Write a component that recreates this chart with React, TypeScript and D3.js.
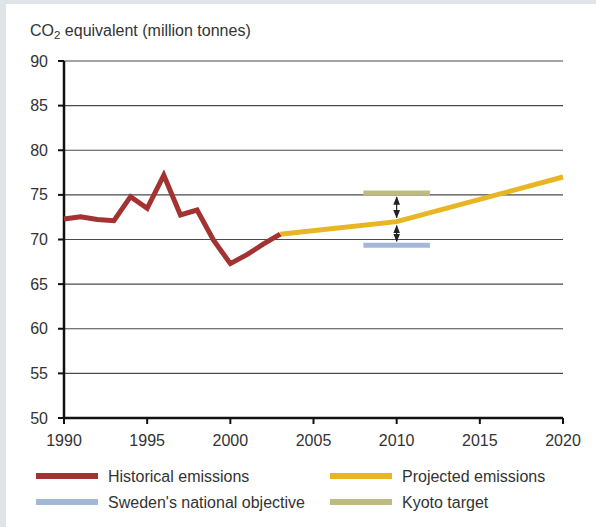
import * as d3 from "d3"

const years = [1990, 1991, 1992, 1993, 1994, 1995, 1996, 1997, 1998, 1999, 2000, 2001, 2002, 2003]
const historical = [72.3, 72.55, 72.25, 72.1, 74.8, 73.5, 77.2, 72.75, 73.3, 69.9, 67.3, 68.3, 69.5, 70.6]
const projYears = [2003, 2010, 2020]
const projected = [70.6, 72.0, 77.0]
const targetYears = [2008, 2012]
const kyoto = 75.2
const national = 69.35
const yTicks = [50, 55, 60, 65, 70, 75, 80, 85, 90]
const xTicks = [1990, 1995, 2000, 2005, 2010, 2015, 2020]

const RED = "#a33232"
const YELLOW = "#e8b623"
const BLUE = "#a3b8d9"
const OLIVE = "#bdbb82"
const FONT = "'Liberation Sans', Arial, sans-serif"

export default function App() {
    const width = 596
    const height = 527
    const m = { left: 64, right: 563, top: 61, bottom: 418 }

    const x = d3.scaleLinear().domain([1990, 2020]).range([m.left, m.right])
    const y = d3.scaleLinear().domain([50, 90]).range([m.bottom, m.top])

    const line = d3
        .line<[number, number]>()
        .x((d) => x(d[0]))
        .y((d) => y(d[1]))

    const histPts = years.map((yr, i) => [yr, historical[i]] as [number, number])
    const projPts = projYears.map((yr, i) => [yr, projected[i]] as [number, number])
    const proj2010 = projected[1]

    const legend = [
        { label: "Historical emissions", color: RED, col: 0, row: 0 },
        { label: "Projected emissions", color: YELLOW, col: 1, row: 0 },
        { label: "Sweden's national objective", color: BLUE, col: 0, row: 1 },
        { label: "Kyoto target", color: OLIVE, col: 1, row: 1 },
    ]

    return (
        <svg
            width={width}
            height={height}
            style={{ position: "absolute", left: 0, top: 0, fontFamily: FONT }}
        >
            <defs>
                <marker id="ah" viewBox="0 0 10 10" refX="9" refY="5" markerWidth="7" markerHeight="7" orient="auto-start-reverse">
                    <path d="M0,1 L10,5 L0,9 Z" fill="#222" />
                </marker>
            </defs>
            <rect x={0} y={0} width={width} height={height} fill="#dfe4e8" />
            <rect x={6} y={4} width={width - 6} height={height - 4} fill="#ffffff" />

            <text x={30} y={36} fontSize={16} fill="#333">
                CO<tspan fontSize={11.5} dy={3}>2</tspan>
                <tspan dy={-3}> equivalent (million tonnes)</tspan>
            </text>

            {/* grid */}
            {yTicks.slice(1).map((t) => (
                <line key={t} x1={m.left} x2={m.right} y1={y(t)} y2={y(t)} stroke="#4a4a4a" strokeWidth={1.1} />
            ))}

            {/* y ticks + labels */}
            {yTicks.map((t) => (
                <g key={t}>
                    <line x1={m.left - 6} x2={m.left} y1={y(t)} y2={y(t)} stroke="#111" strokeWidth={2} />
                    <text x={48} y={y(t)} dy="0.35em" textAnchor="end" fontSize={16} fill="#333">
                        {t}
                    </text>
                </g>
            ))}

            {/* x ticks + labels */}
            {xTicks.map((t) => (
                <g key={t}>
                    <line x1={x(t)} x2={x(t)} y1={m.bottom} y2={m.bottom + 6} stroke="#111" strokeWidth={2} />
                    <text x={x(t)} y={446} textAnchor="middle" fontSize={16} fill="#333">
                        {t}
                    </text>
                </g>
            ))}

            {/* axes */}
            <line x1={m.left} x2={m.left} y1={m.top} y2={m.bottom + 1} stroke="#111" strokeWidth={2.5} />
            <line x1={m.left - 1} x2={m.right} y1={m.bottom} y2={m.bottom} stroke="#111" strokeWidth={2.5} />

            {/* targets */}
            <line x1={x(targetYears[0])} x2={x(targetYears[1])} y1={y(kyoto)} y2={y(kyoto)} stroke={OLIVE} strokeWidth={5} />
            <line x1={x(targetYears[0])} x2={x(targetYears[1])} y1={y(national)} y2={y(national)} stroke={BLUE} strokeWidth={5} />

            {/* arrows */}
            <line
                x1={x(2010)} x2={x(2010)}
                y1={y(kyoto) + 4} y2={y(proj2010) - 4}
                stroke="#222" strokeWidth={1.2}
                markerStart="url(#ah)" markerEnd="url(#ah)"
            />
            <line
                x1={x(2010)} x2={x(2010)}
                y1={y(proj2010) + 4} y2={y(national) - 4}
                stroke="#222" strokeWidth={1.2}
                markerStart="url(#ah)" markerEnd="url(#ah)"
            />

            {/* series */}
            <path d={line(projPts) ?? ""} fill="none" stroke={YELLOW} strokeWidth={5} />
            <path d={line(histPts) ?? ""} fill="none" stroke={RED} strokeWidth={5} strokeLinejoin="miter" />

            {/* legend */}
            {legend.map((l) => {
                const lx = l.col === 0 ? 36 : 330
                const ly = l.row === 0 ? 476 : 502
                return (
                    <g key={l.label}>
                        <line x1={lx} x2={lx + 62} y1={ly} y2={ly} stroke={l.color} strokeWidth={6} />
                        <text x={lx + 72} y={ly} dy="0.35em" fontSize={16} fill="#333">
                            {l.label}
                        </text>
                    </g>
                )
            })}
        </svg>
    )
}
